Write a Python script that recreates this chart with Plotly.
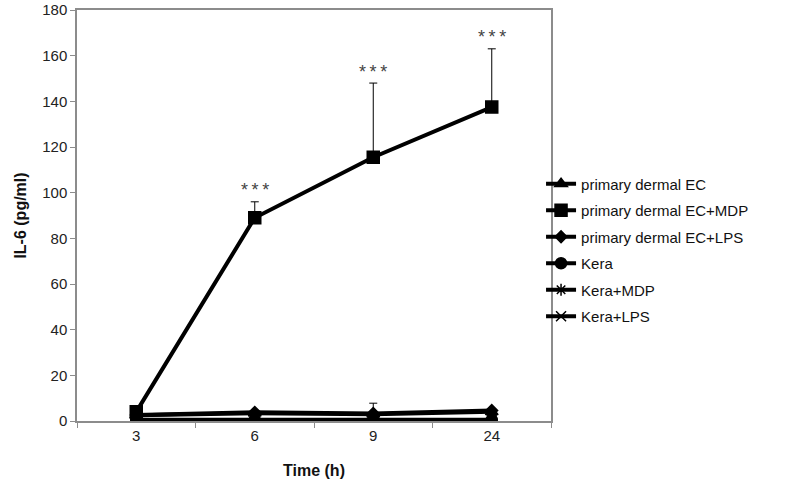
import plotly.graph_objects as go

# Time points (category axis)
times = ["3", "6", "9", "24"]

# IL-6 (pg/ml) per condition
ec = [2.5, 3.4, 3.0, 4.0]
ec_mdp = [4.0, 89.0, 115.5, 137.5]
ec_mdp_err = [0.0, 7.0, 32.5, 25.5]
ec_lps = [2.6, 3.8, 3.3, 4.6]
ec_lps_err = [0.0, 0.0, 4.5, 0.0]
kera = [0.5, 0.5, 0.5, 0.5]
kera_mdp = [0.4, 0.4, 0.4, 0.4]
kera_lps = [0.3, 0.3, 0.3, 0.3]

# significance marks above EC+MDP
sig_times = ["6", "9", "24"]
sig_y = [101, 153, 168]
sig_text = ["*\u2009*\u2009*"] * 3

font_family = "Liberation Sans, Arial, sans-serif"

fig = go.Figure()

series = [
    ("primary dermal EC", ec, None, "triangle-up", 11),
    ("primary dermal EC+MDP", ec_mdp, ec_mdp_err, "square", 12),
    ("primary dermal EC+LPS", ec_lps, ec_lps_err, "diamond", 9),
    ("Kera", kera, None, "circle", 11),
    ("Kera+MDP", kera_mdp, None, "asterisk-open", 10),
    ("Kera+LPS", kera_lps, None, "x-thin-open", 10),
]

for i, (name, vals, err, sym, size) in enumerate(series):
    err_y = None
    if err is not None:
        err_y = dict(type="data", symmetric=False, array=err,
                     arrayminus=[0] * len(err), color="black",
                     thickness=1, width=4)
    fig.add_trace(go.Scatter(
        x=times, y=vals, name=name, mode="lines+markers",
        line=dict(color="black", width=4),
        marker=dict(symbol=sym, size=size, color="black",
                    line=dict(color="black", width=1.5)),
        error_y=err_y,
        legendgroup=f"g{i}",
    ))

# annotations on a category axis take the category index
for t, y, s in zip(sig_times, sig_y, sig_text):
    fig.add_annotation(x=times.index(t), y=y, text=s, showarrow=False,
                       font=dict(size=18, color="#444", family=font_family))

fig.update_layout(
    width=800, height=488,
    margin=dict(l=77, r=249, t=10, b=67),
    paper_bgcolor="white", plot_bgcolor="white",
    font=dict(family=font_family, size=15, color="#222"),
    legend=dict(x=0.979, y=0.416, yanchor="middle", xanchor="left",
                font=dict(size=15, color="#111"), tracegroupgap=4,
                bgcolor="rgba(0,0,0,0)"),
    xaxis=dict(
        type="category", range=[-0.5, 3.5], automargin=False,
        showline=True, linecolor="#8c8c8c", linewidth=1.5, mirror=True,
        ticks="outside", tickson="boundaries", ticklen=5, tickcolor="#8c8c8c",
        showgrid=False, zeroline=False,
        title=dict(text="<b>Time (h)</b>", font=dict(size=16, color="#111"), standoff=22),
    ),
    yaxis=dict(
        range=[0, 180], dtick=20, automargin=False,
        showline=True, linecolor="#8c8c8c", linewidth=1.5, mirror=True,
        ticks="outside", ticklen=5, tickcolor="#8c8c8c",
        showgrid=False, zeroline=False,
        title=dict(text="<b>IL-6 (pg/ml)</b>", font=dict(size=16, color="#111"), standoff=12),
    ),
)

# drop the default body margin so the figure sits at the window corner
fig.write_html("out.html", config={"displayModeBar": False},
               post_script="document.body.style.margin='0';")
